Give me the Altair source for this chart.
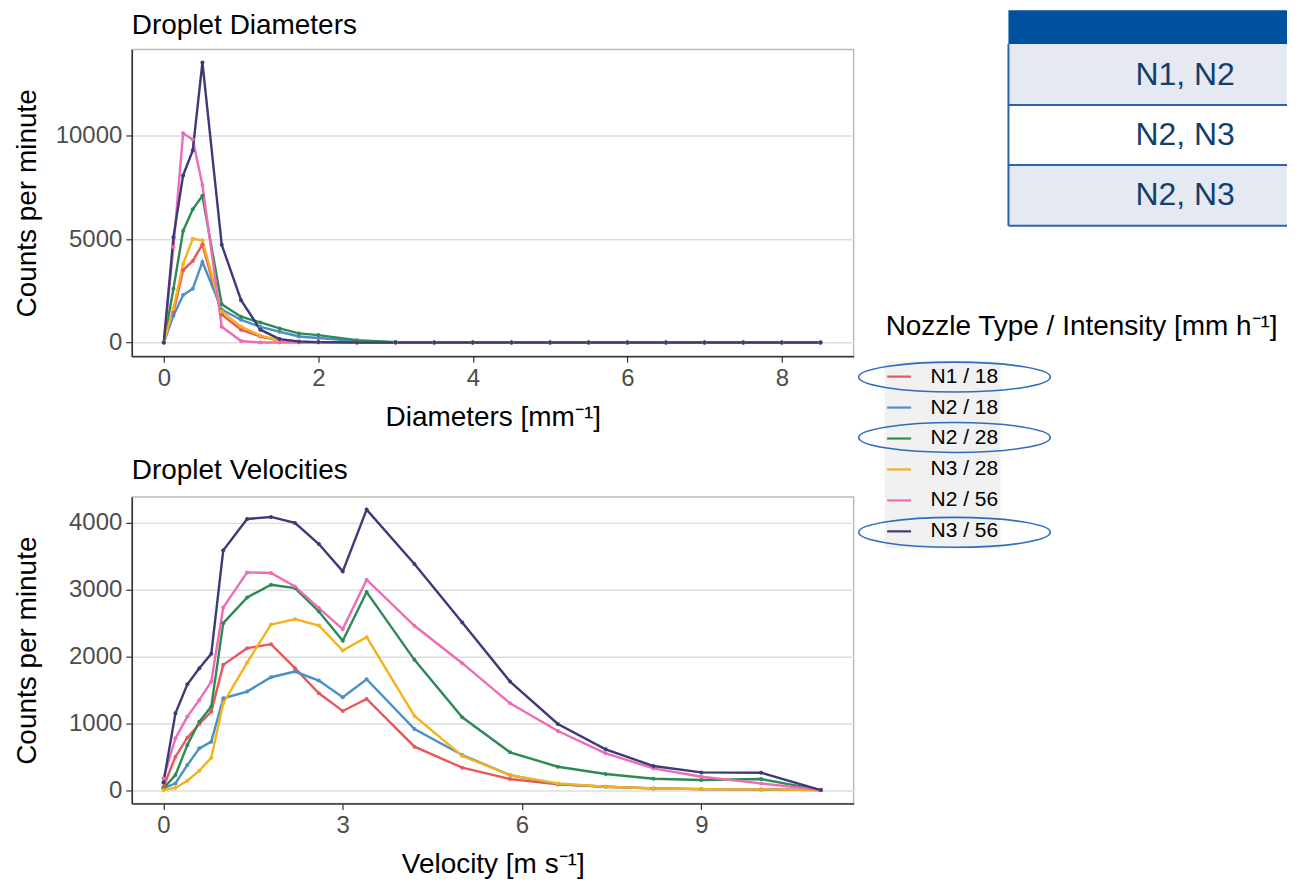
import altair as alt
import pandas as pd

FONT = "Liberation Sans"

series = ["N1 / 18", "N2 / 18", "N2 / 28", "N3 / 28", "N2 / 56", "N3 / 56"]
colors = ["#E8575B", "#4A8FC7", "#2D8A55", "#F5B21B", "#EF6BB5", "#3C3A79"]

# ---- Droplet diameters ----
diam_x = [0, 0.125, 0.25, 0.375, 0.5, 0.75, 1.0, 1.25, 1.5, 1.75, 2.0, 2.5,
          3.0, 3.5, 4.0, 4.5, 5.0, 5.5, 6.0, 6.5, 7.0, 7.5, 8.0, 8.5]
diam_n1_18 = [0, 1450, 3500, 3950, 4750, 1350, 620, 290, 90, 25, 10, 0,
              0, 0, 0, 0, 0, 0, 0, 0, 0, 0, 0, 0]
diam_n2_18 = [0, 1300, 2300, 2600, 3900, 1600, 1100, 760, 520, 290, 220, 70,
              10, 0, 0, 0, 0, 0, 0, 0, 0, 0, 0, 0]
diam_n2_28 = [0, 2600, 5400, 6450, 7100, 1850, 1250, 970, 680, 440, 360, 115,
              20, 0, 0, 0, 0, 0, 0, 0, 0, 0, 0, 0]
diam_n3_28 = [0, 1650, 3800, 5020, 4950, 1500, 770, 330, 110, 30, 10, 0,
              0, 0, 0, 0, 0, 0, 0, 0, 0, 0, 0, 0]
diam_n2_56 = [0, 4620, 10130, 9830, 7630, 760, 70, 0, 0, 0, 0, 0,
              0, 0, 0, 0, 0, 0, 0, 0, 0, 0, 0, 0]
diam_n3_56 = [0, 5100, 8090, 9300, 13560, 4730, 2050, 620, 165, 50, 20, 0,
              0, 0, 0, 0, 0, 0, 0, 0, 0, 0, 0, 0]

# ---- Droplet velocities ----
vel_x = [0, 0.2, 0.4, 0.6, 0.8, 1.0, 1.4, 1.8, 2.2, 2.6, 3.0, 3.4, 4.2, 5.0,
         5.8, 6.6, 7.4, 8.2, 9.0, 10.0, 11.0]
vel_n1_18 = [50, 500, 785, 990, 1175, 1875, 2125, 2185, 1825, 1450, 1185, 1365,
             650, 335, 165, 85, 50, 25, 15, 10, 0]
vel_n2_18 = [25, 100, 375, 625, 725, 1375, 1475, 1690, 1775, 1640, 1390, 1660,
             915, 525, 225, 90, 50, 25, 15, 10, 0]
vel_n2_28 = [25, 225, 675, 1025, 1250, 2500, 2885, 3075, 3025, 2675, 2235, 2965,
             1950, 1090, 565, 350, 240, 170, 150, 165, 0]
vel_n3_28 = [0, 35, 140, 290, 485, 1300, 1910, 2480, 2560, 2465, 2090, 2290,
             1110, 510, 225, 100, 50, 25, 15, 10, 0]
vel_n2_56 = [175, 775, 1100, 1350, 1625, 2735, 3260, 3250, 3050, 2725, 2410, 3150,
             2460, 1900, 1300, 885, 550, 325, 200, 100, 0]
vel_n3_56 = [115, 1150, 1585, 1825, 2040, 3590, 4060, 4090, 4000, 3685, 3275, 4200,
             3385, 2510, 1625, 990, 610, 360, 265, 260, 0]

table_rows = ["N1, N2", "N2, N3", "N2, N3"]
highlighted = ["N1 / 18", "N2 / 28", "N3 / 56"]
panel_titles = ["Droplet Diameters", "Droplet Velocities"]

diam_series = [diam_n1_18, diam_n2_18, diam_n2_28, diam_n3_28, diam_n2_56, diam_n3_56]
vel_series = [vel_n1_18, vel_n2_18, vel_n2_28, vel_n3_28, vel_n2_56, vel_n3_56]


def long_df(xs, ys_list):
    rows = []
    for name, ys in zip(series, ys_list):
        for xv, yv in zip(xs, ys):
            rows.append({"series": name, "x": xv, "y": yv})
    return pd.DataFrame(rows)


diam_df = long_df(diam_x, diam_series)
vel_df = long_df(vel_x, vel_series)

W = 723
H = 307

axis_style = dict(domainColor="#333333", domainWidth=1.5, tickColor="#333333",
                  tickSize=6, tickWidth=1.2, labelFontSize=24, labelColor="#4D4D4D",
                  labelPadding=4, titleFontSize=28, titleFontWeight="normal",
                  titleColor="black", labelFont=FONT, titleFont=FONT)


def line_chart(df, xtitle, xdomain, xticks, ydomain, yticks, legend):
    return alt.Chart(df).mark_line(
        strokeWidth=2.4, point=alt.OverlayMarkDef(size=16, filled=True)
    ).encode(
        x=alt.X("x:Q", scale=alt.Scale(domain=xdomain, nice=False, zero=False),
                axis=alt.Axis(values=xticks, title=xtitle, grid=False, titlePadding=13,
                              **axis_style)),
        y=alt.Y("y:Q", scale=alt.Scale(domain=ydomain, nice=False, zero=False),
                axis=alt.Axis(values=yticks, format="d", title="Counts per minute",
                              grid=True, gridColor="#DDDDDD", gridWidth=1.5,
                              titleX=-118, titleY=H / 2, titleAngle=270,
                              titleBaseline="top", titleAlign="center", **axis_style)),
        color=alt.Color("series:N", scale=alt.Scale(domain=series, range=colors),
                        sort=series, legend=legend),
    ).properties(width=W, height=H)


def title_mark(text, ypos):
    return alt.Chart(pd.DataFrame({"t": [text]})).mark_text(
        font=FONT, fontSize=28, color="black", align="left", baseline="alphabetic"
    ).encode(x=alt.value(0), y=alt.value(ypos), text="t:N")


legend = alt.Legend(
    title="Nozzle Type / Intensity [mm h⁻¹]", orient="none", legendX=755, legendY=264,
    titleFontSize=28, titleFontWeight="normal", titleColor="black", titleFont=FONT,
    titleLimit=800, labelLimit=300,
    labelFontSize=21, labelColor="black", labelFont=FONT, symbolType="stroke",
    symbolStrokeWidth=2.2, symbolSize=576, rowPadding=7, labelOffset=18,
    titlePadding=22, padding=0,
)

top_lines = line_chart(diam_df, "Diameters [mm⁻¹]", [-0.414, 8.93], [0, 2, 4, 6, 8],
                       [-660, 14180], [0, 5000, 10000], legend)
bottom_lines = line_chart(vel_df, "Velocity [m s⁻¹]", [-0.53, 11.55], [0, 3, 6, 9],
                          [-200, 4390], [0, 1000, 2000, 3000, 4000], None)

# ---- decorations (legend band, highlight ellipses, table) ----
deco = []
deco.append(alt.Chart(pd.DataFrame({"k": series[:1]})).mark_rect(color="#F1F1F1").encode(
    x=alt.value(754), x2=alt.value(870), y=alt.value(312), y2=alt.value(500)))

ell_y = {"N1 / 18": 328, "N2 / 28": 388.5, "N3 / 56": 483.5}
ellipse_path = "M-1,0A1,0.156,0,1,1,1,0A1,0.156,0,1,1,-1,0Z"
for name in highlighted:
    deco.append(alt.Chart(pd.DataFrame({"k": [name]})).mark_point(
        shape=ellipse_path, size=36864, filled=False, stroke="#2F6EBA", strokeWidth=1.6,
        opacity=1).encode(x=alt.value(824), y=alt.value(ell_y[name])))

TX0, TX1 = 878, 1157
deco.append(alt.Chart(pd.DataFrame({"k": ["header"]})).mark_rect(color="#0050A0").encode(
    x=alt.value(TX0), x2=alt.value(TX1), y=alt.value(-39.5), y2=alt.value(-5.5)))
row_bounds = [-5.5, 55.5, 115.5, 176.5]
row_fill = ["#E4E9F2", "#FFFFFF", "#E4E9F2"]
for i, lab in enumerate(table_rows):
    d = pd.DataFrame({"label": [lab]})
    deco.append(alt.Chart(d).mark_rect(color=row_fill[i]).encode(
        x=alt.value(TX0), x2=alt.value(TX1), y=alt.value(row_bounds[i]),
        y2=alt.value(row_bounds[i + 1])))
    deco.append(alt.Chart(d).mark_text(font=FONT, fontSize=32, color="#143E6C",
                                       align="center", baseline="middle").encode(
        x=alt.value(1055), y=alt.value((row_bounds[i] + row_bounds[i + 1]) / 2),
        text="label:N"))
for yb in row_bounds[1:]:
    deco.append(alt.Chart(pd.DataFrame({"k": [yb]})).mark_rule(
        color="#2A64AE", strokeWidth=2).encode(
        x=alt.value(TX0), x2=alt.value(TX1), y=alt.value(yb)))
deco.append(alt.Chart(pd.DataFrame({"k": ["left"]})).mark_rule(
    color="#2A64AE", strokeWidth=2).encode(
    x=alt.value(TX0), y=alt.value(-5.5), y2=alt.value(176.5)))

top = alt.layer(*deco, top_lines, title_mark(panel_titles[0], -15.8))
bottom = alt.layer(bottom_lines, title_mark(panel_titles[1], -18.3))

chart = alt.vconcat(top, bottom, spacing=141, bounds="flush").resolve_scale(
    color="independent"
).configure(
    font=FONT, padding={"left": 5, "top": 0, "right": 0, "bottom": 0}
).configure_view(
    stroke="#BBBBBB", strokeWidth=1.5
)

chart.save("out.html", embed_options={"renderer": "svg", "actions": False})
